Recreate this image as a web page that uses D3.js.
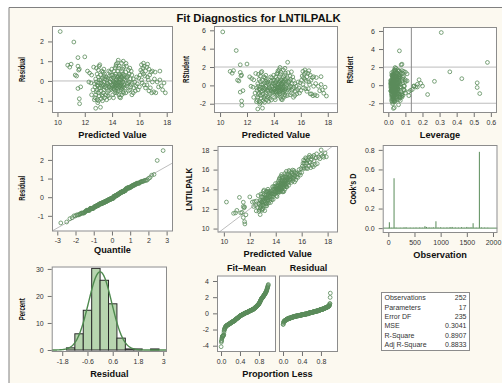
<!DOCTYPE html>
<html><head><meta charset="utf-8">
<script src="https://cdn.jsdelivr.net/npm/d3@7"></script>
<style>
body{margin:0;background:#fff;}
svg text{font-family:"Liberation Sans",Arial,sans-serif;}
</style></head><body>
<svg id="c" width="502" height="383"></svg>
<script>
// ---------------- DATA ----------------
const predicted = [
  10.2, 11.2, 11.5, 10.75, 11.0, 11.5, 11.6, 10.9, 11.55, 11.3, 11.4, 11.5, 11.7, 11.6, 11.62,
  12.0, 12.2, 12.35, 12.5, 12.3, 12.45, 12.6, 12.5, 12.65, 12.7,
  12.8, 12.95, 12.9, 13.0, 12.75, 12.8, 12.85, 13.0, 12.9, 13.05, 12.75, 12.9, 13.0, 13.05, 12.85, 12.95, 12.72, 12.8, 13.0, 12.9, 13.08, 13.0, 12.85, 13.05, 13.1,
  13.15, 13.2, 13.3, 13.45, 13.25, 13.35, 13.2, 13.4, 13.3, 13.15, 13.25, 13.3, 13.4, 13.45, 13.2, 13.35, 13.2, 13.3, 13.4, 13.45, 13.15, 13.48, 13.25, 13.4, 13.35,
  13.6, 13.8, 13.55, 13.65, 13.75, 13.9, 13.7, 13.55, 13.6, 13.7, 13.8, 13.85, 13.95, 13.65, 13.9, 13.75, 13.6, 13.7, 13.8, 13.9, 13.95, 13.55, 13.75, 13.85, 13.98,
  14.1, 14.05, 14.2, 14.25, 14.15, 14.0, 14.05, 14.1, 14.15, 14.2, 14.25, 14.28, 14.12, 14.22, 14.08, 14.02, 14.1, 14.18, 14.25, 14.3, 14.05, 14.15, 14.22, 14.28, 14.3,
  14.55, 14.5, 14.35, 14.45, 14.32, 14.38, 14.42, 14.48, 14.52, 14.58, 14.36, 14.44, 14.56, 14.34, 14.4, 14.46, 14.5, 14.54, 14.58, 14.38, 14.42, 14.48, 14.52, 14.4, 14.45,
  14.62, 14.7, 14.8, 14.65, 14.85, 14.62, 14.68, 14.72, 14.78, 14.82, 14.88, 14.66, 14.74, 14.64, 14.7, 14.76, 14.8, 14.84, 14.88, 14.68, 14.72, 14.78, 14.86, 14.7, 14.82,
  15.0, 15.2, 15.3, 15.45, 14.95, 15.05, 15.1, 15.25, 15.35, 15.4, 15.15, 15.48, 14.95, 15.05, 15.15, 15.25, 15.35, 15.45, 15.1, 15.0, 15.2, 15.3, 15.4, 15.05, 15.02,
  15.55, 15.7, 15.9, 15.6, 15.75, 15.85, 16.0, 16.2, 16.35, 15.65, 16.45, 15.55, 15.8, 16.05, 16.15, 16.3, 16.4, 15.95, 16.1, 16.25, 16.35, 16.45, 16.2, 16.3, 16.15,
  16.7, 16.9, 16.55, 16.8, 16.95, 16.6, 16.75, 16.65, 16.55, 16.7, 16.85, 16.95, 16.6,
  17.2, 17.9, 17.7, 17.05, 17.8, 17.4, 17.6, 17.3, 17.1, 17.5, 17.5, 17.15
];
const residual = [
  2.5, 1.97, 1.18, 0.8, 0.85, 0.75, 0.6, 0.7, 0.55, 0.3, 0.25, -0.38, -0.3, -0.9, -1.15,
  1.22, 0.5, 0.4, 0.3, -0.05, -0.1, -0.45, -0.7, 0.7, -0.95,
  -1.38, -1.1, -0.95, -1.0, -0.85, -0.7, -0.55, -0.6, -0.45, -0.75, -0.3, -0.2, -0.1, -0.35, -0.05, -0.25, -0.15, 0.1, 0.2, 0.35, 0.05, 0.55, 0.65, 0.75, 0.82,
  -1.33, -0.9, -1.0, -0.85, -0.7, -0.6, -0.5, -0.45, -0.78, -0.35, -0.25, -0.15, -0.05, -0.3, -0.1, -0.2, 0.05, 0.15, 0.25, 0.35, 0.3, 0.1, 0.5, 0.6, 0.45,
  -0.95, -0.85, -0.7, -0.6, -0.5, -0.45, -0.75, -0.35, -0.25, -0.15, -0.3, -0.05, -0.2, -0.1, -0.38, -0.22, 0.05, 0.15, 0.25, 0.1, 0.3, 0.2, 0.5, 0.45, 0.6,
  -0.85, -0.7, -0.6, -0.5, -0.42, -0.35, -0.25, -0.15, -0.05, -0.3, -0.2, -0.1, -0.38, -0.12, -0.02, 0.05, 0.15, 0.25, 0.35, 0.1, 0.3, 0.5, 0.65, 0.75, 0.85,
  -0.82, -0.7, -0.6, -0.5, -0.35, -0.25, -0.15, -0.05, -0.3, -0.2, -0.1, -0.38, -0.08, 0.05, 0.15, 0.25, 0.35, 0.1, 0.3, 0.2, 0.5, 0.65, 0.75, 0.92, 1.05,
  -0.85, -0.7, -0.55, -0.45, -0.62, -0.35, -0.25, -0.15, -0.05, -0.3, -0.2, -0.1, -0.38, 0.05, 0.15, 0.25, 0.35, 0.1, 0.3, 0.2, 0.5, 0.6, 0.7, 0.9, 1.0,
  -0.6, -0.5, -0.45, -0.7, -0.35, -0.25, -0.15, -0.05, -0.3, -0.2, -0.1, -0.12, 0.05, 0.15, 0.25, 0.35, 0.1, 0.3, 0.2, 0.45, 0.55, 0.65, 0.5, 0.75, 0.89,
  -0.6, -0.5, -0.45, -0.35, -0.25, -0.15, -0.3, -0.1, -0.2, -0.05, -0.35, 0.1, 0.2, 0.3, 0.05, 0.35, 0.25, 0.15, 0.55, 0.65, 0.75, 0.5, 0.45, 0.9, 0.82,
  -0.5, -0.6, -0.2, -0.35, -0.05, 0.2, 0.3, 0.05, 0.7, 0.6, 0.45, 0.5, 0.85,
  -0.6, -0.6, -0.45, -0.55, -0.1, -0.3, -0.25, -0.05, 0.1, 0.05, 0.5, 0.45
];
const leverage = [
  0.31, 0.065, 0.075, 0.09, 0.08, 0.07, 0.06, 0.085, 0.065, 0.1, 0.11, 0.12, 0.095, 0.07, 0.06,
  0.08, 0.05, 0.06, 0.18, 0.15, 0.17, 0.04, 0.05, 0.045, 0.035,
  0.03, 0.025, 0.04, 0.035, 0.05, 0.03, 0.045, 0.02, 0.055, 0.03, 0.04, 0.025, 0.035, 0.06, 0.03, 0.045, 0.05, 0.04, 0.27, 0.03, 0.035, 0.04, 0.025, 0.05, 0.03,
  0.035, 0.03, 0.025, 0.04, 0.02, 0.035, 0.05, 0.03, 0.045, 0.025, 0.04, 0.03, 0.02, 0.035, 0.05, 0.025, 0.03, 0.04, 0.02, 0.045, 0.03, 0.52, 0.035, 0.025, 0.04,
  0.02, 0.06, 0.025, 0.085, 0.02, 0.04, 0.07, 0.015, 0.055, 0.02, 0.09, 0.015, 0.045, 0.02, 0.075, 0.03, 0.02, 0.065, 0.015, 0.05, 0.02, 0.1, 0.025, 0.06, 0.03,
  0.02, 0.065, 0.025, 0.08, 0.03, 0.015, 0.055, 0.025, 0.095, 0.03, 0.02, 0.07, 0.025, 0.045, 0.03, 0.015, 0.085, 0.025, 0.05, 0.015, 0.06, 0.025, 0.11, 0.02, 0.04,
  0.03, 0.07, 0.025, 0.05, 0.02, 0.09, 0.015, 0.06, 0.02, 0.03, 0.075, 0.02, 0.045, 0.03, 0.015, 0.08, 0.025, 0.055, 0.015, 0.02, 0.065, 0.03, 0.1, 0.035, 0.04,
  0.025, 0.08, 0.02, 0.035, 0.065, 0.02, 0.05, 0.025, 0.09, 0.02, 0.035, 0.07, 0.03, 0.02, 0.055, 0.025, 0.085, 0.02, 0.43, 0.06, 0.03, 0.02, 0.075, 0.04, 0.045,
  0.03, 0.23, 0.035, 0.04, 0.025, 0.03, 0.035, 0.04, 0.025, 0.03, 0.035, 0.04, 0.025, 0.03, 0.035, 0.04, 0.025, 0.03, 0.035, 0.04, 0.025, 0.36, 0.03, 0.035, 0.58,
  0.04, 0.035, 0.045, 0.05, 0.04, 0.035, 0.045, 0.52, 0.04, 0.05, 0.045, 0.035, 0.04, 0.05, 0.045, 0.035, 0.04, 0.05, 0.045, 0.035, 0.04, 0.05, 0.045, 0.055, 0.06,
  0.06, 0.07, 0.055, 0.535, 0.15, 0.065, 0.06, 0.07, 0.055, 0.065, 0.07, 0.06, 0.065,
  0.08, 0.12, 0.1, 0.075, 0.16, 0.13, 0.14, 0.2, 0.19, 0.17, 0.09, 0.085
];
// Cook's D needles
const cookObs = [15, 20, 60, 110, 150, 230, 300, 340, 420, 480, 530, 600, 650, 700, 730, 780, 820, 860, 910, 950, 1000, 1060, 1120, 1180, 1220, 1280, 1340, 1400, 1450, 1500, 1540, 1580, 1620, 1680, 1740, 1780, 1840, 1900];
const cookD   = [0.004, 0.06, 0.003, 0.51, 0.004, 0.003, 0.006, 0.008, 0.004, 0.003, 0.005, 0.006, 0.004, 0.02, 0.012, 0.006, 0.004, 0.008, 0.07, 0.005, 0.008, 0.004, 0.006, 0.01, 0.012, 0.006, 0.005, 0.01, 0.004, 0.012, 0.006, 0.008, 0.05, 0.004, 0.78, 0.006, 0.005, 0.004];
// Residual histogram (percent per bin)
const histEdges   = [-1.6, -1.2, -0.8, -0.4, 0, 0.4, 0.8, 1.2, 1.6, 2.0, 2.4, 2.8];
const histPercent = [0.8, 6.0, 14.7, 30.2, 25.8, 17.1, 4.4, 0.4, 0.4, 0, 0.4];
// Fit statistics
const statLabels = ["Observations", "Parameters", "Error DF", "MSE", "R-Square", "Adj R-Square"];
const statValues = ["252", "17", "235", "0.3041", "0.8907", "0.8833"];
const nObs = 252, nParm = 17, mse = 0.3041;
// Tick values
const predTicks = [10, 12, 14, 16, 18];
const residTicks = [-1, 0, 1, 2];
const rstudTicks = [-2, 0, 2, 4, 6];
const levTicks = [0, 0.1, 0.2, 0.3, 0.4, 0.5, 0.6];
const quantTicks = [-3, -2, -1, 0, 1, 2, 3];
const obsValTicks = [10, 12, 14, 16, 18];
const obsTicks = [0, 500, 1000, 1500, 2000];
const cookTicks = [0, 0.2, 0.4, 0.6, 0.8];
const histXTicks = [-1.8, -0.6, 0.6, 1.8, 3];
const histYTicks = [0, 10, 20, 30];
const spreadYTicks = [-4, -2, 0, 2, 4];
const propTicks = [0, 0.4, 0.8];

// ---------------- DERIVED STATISTICS ----------------
const sse = mse * (nObs - nParm);
const rstudent = residual.map((r, i) => {
  const h = leverage[i];
  const s2 = (sse - r * r / (1 - h)) / (nObs - nParm - 1);
  return r / Math.sqrt(s2 * (1 - h));
});
const observed = predicted.map((p, i) => p + residual[i]);
function qnorm(p){
  const a=[-3.969683028665376e+01,2.209460984245205e+02,-2.759285104469687e+02,1.383577518672690e+02,-3.066479806614716e+01,2.506628277459239e+00];
  const b=[-5.447609879822406e+01,1.615858368580409e+02,-1.556989798598866e+02,6.680131188771972e+01,-1.328068155288572e+01];
  const c=[-7.784894002430293e-03,-3.223964580411365e-01,-2.400758277161838e+00,-2.549732539343734e+00,4.374664141464968e+00,2.938163982698783e+00];
  const d=[7.784695709041462e-03,3.224671290700398e-01,2.445134137142996e+00,3.754408661907416e+00];
  const pl=0.02425;
  if(p<pl){const q=Math.sqrt(-2*Math.log(p));return (((((c[0]*q+c[1])*q+c[2])*q+c[3])*q+c[4])*q+c[5])/((((d[0]*q+d[1])*q+d[2])*q+d[3])*q+1);}
  if(p>1-pl){const q=Math.sqrt(-2*Math.log(1-p));return -(((((c[0]*q+c[1])*q+c[2])*q+c[3])*q+c[4])*q+c[5])/((((d[0]*q+d[1])*q+d[2])*q+d[3])*q+1);}
  const q=p-0.5,r=q*q;return (((((a[0]*r+a[1])*r+a[2])*r+a[3])*r+a[4])*r+a[5])*q/(((((b[0]*r+b[1])*r+b[2])*r+b[3])*r+b[4])*r+1);
}
const n = residual.length;
const sortedRes = residual.slice().sort(d3.ascending);
const meanObs = d3.mean(observed);
const sortedFit = predicted.map(p => p - meanObs).sort(d3.ascending);

// ---------------- DRAWING ----------------
const svg = d3.select("#c");
const CREAM = "#FCF9F0", GREEN = "#5A8C5A", FRAME = "#8C8C8C", REF = "#BDBDBD";
svg.append("rect").attr("x", 9).attr("y", 7).attr("width", 493).attr("height", 376).attr("fill", CREAM);
svg.append("path").attr("d", "M9,383V7.5H502").attr("stroke", "#808080").attr("fill", "none");

svg.append("text").attr("x", 258.5).attr("y", 22).attr("text-anchor", "middle")
  .attr("font-size", 11.3).attr("font-weight", "bold").attr("fill", "#111").text("Fit Diagnostics for LNTILPALK");

let clipN = 0;
function styleAxis(sel){
  sel.select(".domain").remove();
  sel.selectAll(".tick line").attr("stroke", "#707070");
  sel.selectAll(".tick text").attr("fill", "#333").attr("font-size", 7)
    .attr("font-family", "Liberation Sans, Arial, sans-serif");
}
function panel(o){
  const x = d3.scaleLinear().domain(o.xd).range([o.x0, o.x1]);
  const y = d3.scaleLinear().domain(o.yd).range([o.y1, o.y0]);
  svg.append("rect").attr("x", o.x0).attr("y", o.y0).attr("width", o.x1 - o.x0).attr("height", o.y1 - o.y0).attr("fill", "#fff");
  const id = "clip" + (clipN++);
  svg.append("clipPath").attr("id", id).append("rect")
    .attr("x", o.x0).attr("y", o.y0).attr("width", o.x1 - o.x0).attr("height", o.y1 - o.y0);
  const g = svg.append("g").attr("clip-path", `url(#${id})`);
  const done = () => {
    svg.append("rect").attr("x", o.x0 + 0.5).attr("y", o.y0 + 0.5).attr("width", o.x1 - o.x0 - 1).attr("height", o.y1 - o.y0 - 1)
      .attr("fill", "none").attr("stroke", FRAME);
    if (o.xt) svg.append("g").attr("transform", `translate(0,${o.y1})`)
      .call(d3.axisBottom(x).tickValues(o.xt).tickSize(4).tickPadding(3).tickFormat(o.xf || (d => d))).call(styleAxis);
    if (o.yt) svg.append("g").attr("transform", `translate(${o.x0},0)`)
      .call(d3.axisLeft(y).tickValues(o.yt).tickSize(4).tickPadding(4).tickFormat(o.yf || (d => d))).call(styleAxis);
    if (o.xl) svg.append("text").attr("x", (o.x0 + o.x1) / 2).attr("y", o.y1 + (o.xly || 24.5)).attr("text-anchor", "middle")
      .attr("font-size", 9.2).attr("font-weight", "bold").attr("fill", "#111").text(o.xl);
    if (o.yl) svg.append("text").attr("transform", `translate(${o.ylx},${(o.y0 + o.y1) / 2}) rotate(-90)`)
      .attr("text-anchor", "middle").attr("dominant-baseline", "middle")
      .attr("font-size", 8.5).attr("font-weight", "bold").attr("fill", "#111")
      .attr("textLength", o.yll).attr("lengthAdjust", "spacingAndGlyphs").text(o.yl);
  };
  return {x, y, g, done};
}
function dots(P, xs, ys){
  P.g.selectAll(null).data(xs).enter().append("circle")
    .attr("cx", (d) => P.x(d)).attr("cy", (d, i) => P.y(ys[i])).attr("r", 1.9)
    .attr("fill", "none").attr("stroke", GREEN).attr("stroke-width", 0.8);
}
function hline(P, v, col){
  P.g.append("line").attr("x1", P.x.range()[0]).attr("x2", P.x.range()[1])
    .attr("y1", P.y(v)).attr("y2", P.y(v)).attr("stroke", col || REF);
}
const f1 = d3.format(".1f");

// Panel 1: Residual vs Predicted
const P1 = panel({x0:52, x1:173, y0:26, y1:113, xd:[9.6,18.46], yd:[-1.62,2.78], xt:predTicks, yt:residTicks,
  xl:"Predicted Value", yl:"Residual", ylx:23, yll:25});
hline(P1, 0);
dots(P1, predicted, residual);
P1.done();

// Panel 2: RStudent vs Predicted
const P2 = panel({x0:214, x1:338, y0:26, y1:113, xd:[9.55,18.76], yd:[-3.01,6.47], xt:predTicks, yt:rstudTicks,
  xl:"Predicted Value", yl:"RStudent", ylx:187, yll:27});
hline(P2, 2); hline(P2, -2);
dots(P2, predicted, rstudent);
P2.done();

// Panel 3: RStudent vs Leverage
const P3 = panel({x0:383, x1:497, y0:27, y1:113, xd:[-0.031,0.636], yd:[-3.08,6.44], xt:levTicks, yt:rstudTicks,
  xf:f1, xl:"Leverage", yl:"RStudent", ylx:351, yll:27});
hline(P3, 2); hline(P3, -2);
P3.g.append("line").attr("x1", P3.x(2 * nParm / nObs)).attr("x2", P3.x(2 * nParm / nObs))
  .attr("y1", 27).attr("y2", 113).attr("stroke", "#8a8a8a");
dots(P3, leverage, rstudent);
P3.done();

// Panel 4: Q-Q plot
const P4 = panel({x0:52, x1:173, y0:145, y1:231.5, xd:[-3.29,3.35], yd:[-1.84,2.8], xt:quantTicks, yt:residTicks,
  xl:"Quantile", xly:21.5, yl:"Residual", ylx:23, yll:25});
const sig = Math.sqrt(mse);
P4.g.append("line").attr("x1", P4.x(-3.4)).attr("x2", P4.x(3.4)).attr("y1", P4.y(-3.4 * sig)).attr("y2", P4.y(3.4 * sig)).attr("stroke", REF);
const qs = sortedRes.map((r, i) => qnorm((i + 1 - 0.375) / (n + 0.25)));
dots(P4, qs, sortedRes);
P4.done();

// Panel 5: Observed vs Predicted
const P5 = panel({x0:217.5, x1:338, y0:146, y1:232.5, xd:[9.51,18.8], yd:[9.6,18.4], xt:predTicks, yt:obsValTicks,
  xl:"Predicted Value", yl:"LNTILPALK", ylx:190, yll:43});
P5.g.append("line").attr("x1", P5.x(9)).attr("x2", P5.x(19)).attr("y1", P5.y(9)).attr("y2", P5.y(19)).attr("stroke", REF);
dots(P5, predicted, observed);
P5.done();

// Panel 6: Cook's D
const P6 = panel({x0:382.7, x1:497.5, y0:145, y1:233, xd:[-107,2086], yd:[-0.05,0.85], xt:obsTicks, yt:cookTicks,
  yf:f1, xl:"Observation", yl:"Cook's D", ylx:354, yll:31});
hline(P6, 0, GREEN);
P6.g.selectAll(null).data(cookObs).enter().append("line")
  .attr("x1", d => P6.x(d)).attr("x2", d => P6.x(d))
  .attr("y1", P6.y(0)).attr("y2", (d, i) => P6.y(cookD[i])).attr("stroke", GREEN).attr("stroke-width", 1);
P6.done();

// Panel 7: Residual histogram
const P7 = panel({x0:51.7, x1:167, y0:266.5, y1:352, xd:[-2.3,3.18], yd:[-0.74,30.9], xt:histXTicks, yt:histYTicks,
  xl:"Residual", yl:"Percent", ylx:23, yll:22});
P7.g.selectAll(null).data(histPercent.map((v, i) => i)).enter().filter(i => histPercent[i] > 0).append("rect")
  .attr("x", i => P7.x(histEdges[i])).attr("width", i => P7.x(histEdges[i + 1]) - P7.x(histEdges[i]))
  .attr("y", i => P7.y(histPercent[i])).attr("height", i => P7.y(0) - P7.y(histPercent[i]))
  .attr("fill", "#B7D5AF").attr("stroke", "#2b2b2b").attr("stroke-width", 1);
const bw = histEdges[1] - histEdges[0];
const curveX = d3.range(-2.3, 3.2, 0.02);
P7.g.append("path").datum(curveX)
  .attr("d", d3.line().x(v => P7.x(v)).y(v => P7.y(100 * bw * Math.exp(-0.5 * (v / sig) ** 2) / (sig * Math.sqrt(2 * Math.PI)))))
  .attr("fill", "none").attr("stroke", "#4E8A4E").attr("stroke-width", 1.4);
P7.done();

// Panel 8: Residual-Fit spread
const props = sortedFit.map((v, i) => (i + 0.5) / n);
const P8a = panel({x0:217, x1:276, y0:275.5, y1:352, xd:[-0.085,1.16], yd:[-4.78,4.68], xt:propTicks, yt:spreadYTicks, xf:f1});
dots(P8a, props, sortedFit);
P8a.done();
const P8b = panel({x0:279, x1:338, y0:275.5, y1:352, xd:[-0.085,1.16], yd:[-4.78,4.68], xt:propTicks, xf:f1});
dots(P8b, props, sortedRes);
P8b.done();
svg.append("text").attr("x", 246.5).attr("y", 271).attr("text-anchor", "middle").attr("font-size", 9).attr("font-weight", "bold").attr("fill", "#111").text("Fit–Mean");
svg.append("text").attr("x", 308.5).attr("y", 271).attr("text-anchor", "middle").attr("font-size", 9).attr("font-weight", "bold").attr("fill", "#111").text("Residual");
svg.append("text").attr("x", 277.5).attr("y", 376.5).attr("text-anchor", "middle").attr("font-size", 9.2).attr("font-weight", "bold").attr("fill", "#111").text("Proportion Less");

// Panel 9: statistics table
const T = {x0:381, x1:469, y0:292, y1:350};
svg.append("rect").attr("x", T.x0 + 0.5).attr("y", T.y0 + 0.5).attr("width", T.x1 - T.x0).attr("height", T.y1 - T.y0)
  .attr("fill", "#fff").attr("stroke", "#8c8c8c");
const rowY = d3.scaleBand().domain(statLabels).range([T.y0 + 1, T.y1 - 1]);
svg.selectAll(null).data(statLabels).enter().append("text")
  .attr("x", T.x0 + 3.5).attr("y", d => rowY(d) + rowY.bandwidth() / 2 + 2.5)
  .attr("font-size", 7).attr("fill", "#333").text(d => d);
svg.selectAll(null).data(statValues).enter().append("text")
  .attr("x", T.x1 - 2.5).attr("y", (d, i) => rowY(statLabels[i]) + rowY.bandwidth() / 2 + 2.5)
  .attr("text-anchor", "end").attr("font-size", 7).attr("fill", "#333").text(d => d);
</script>
</body></html>
